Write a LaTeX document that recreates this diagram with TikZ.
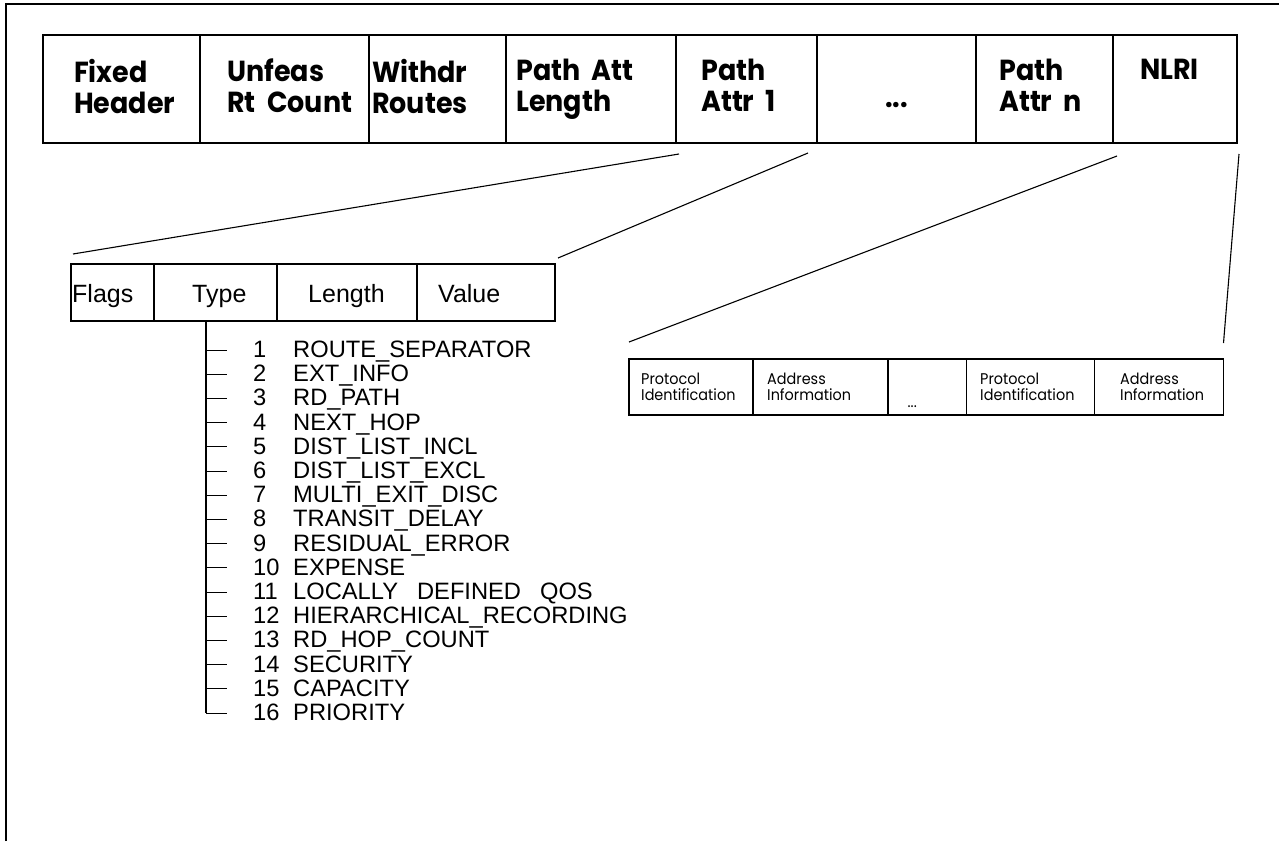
\documentclass[tikz,border=0pt]{standalone}
\usepackage{fontspec}
\setmainfont{Liberation Sans}
\newfontfamily\hdrfont{Poppins}[FakeStretch=0.93]
\usetikzlibrary{positioning}

\tikzset{
  topcell/.style={draw, rectangle, line width=1.3pt, inner sep=0pt, outer sep=0pt, minimum height=108pt},
  flagcell/.style={draw, rectangle, line width=1.2pt, inner sep=0pt, outer sep=0pt, minimum height=57pt},
  protocell/.style={draw, rectangle, line width=1.2pt, inner sep=0pt, outer sep=0pt, minimum height=56pt},
  hdrtext/.style={inner sep=0pt, align=left, font=\hdrfont\bfseries\fontsize{29}{31}\selectfont},
  flagtext/.style={inner sep=0pt, anchor=base west, font=\fontsize{25}{28}\selectfont},
  prototext/.style={inner sep=0pt, align=left, font=\hdrfont\fontsize{15.5}{15.5}\selectfont},
  entry/.style={inner sep=0pt, anchor=base west, font=\fontsize{23.7}{24}\selectfont},
  fan/.style={line width=1.1pt}
}

\begin{document}
\begin{tikzpicture}[x=1pt, y=-1pt]
                    \useasboundingbox (0,0) rectangle (1279,841);
                    \draw[line width=2pt] (6,841) -- (6,3.5) -- (1279,3.5);
                    \node[topcell, minimum width=157pt, anchor=north west] (fixhdr) at (43,35) {};
                    \node[topcell, minimum width=169pt, right=0pt of fixhdr] (unfeas) {};
                    \node[topcell, minimum width=137pt, right=0pt of unfeas] (withdr) {};
                    \node[topcell, minimum width=170pt, right=0pt of withdr] (palen) {};
                    \node[topcell, minimum width=141pt, right=0pt of palen] (pattr1) {};
                    \node[topcell, minimum width=159pt, right=0pt of pattr1] (pdots) {};
                    \node[topcell, minimum width=137pt, right=0pt of pdots] (pattrn) {};
                    \node[topcell, minimum width=124pt, right=0pt of pattrn] (nlri) {};
                    \node[hdrtext, below right=24pt and 31pt of fixhdr.north west] (fixhdrl) {Fixed\\Header};
                    \node[hdrtext, below right=24pt and 27pt of unfeas.north west] (unfeasl) {Unfeas\\Rt~~Count};
                    \node[hdrtext, below right=24pt and 3pt of withdr.north west] (withdrl) {Withdr\\Routes};
                    \node[hdrtext, below right=24pt and 10pt of palen.north west] (palenl) {Path~~Att\\Length};
                    \node[hdrtext, below right=24pt and 25pt of pattr1.north west] (pattr1l) {Path\\Attr~~1};
                    \node[hdrtext, anchor=base] (pdotsl) at ([yshift=-18pt]pdots.center) {...};
                    \node[hdrtext, below right=24pt and 23pt of pattrn.north west] (pattrnl) {Path\\Attr~~n};
                    \node[hdrtext, below right=24pt and 27pt of nlri.north west] (nlril) {NLRI};
                    \node[flagcell, minimum width=83pt, anchor=north west] (flags) at (71,264) {};
                    \node[flagcell, minimum width=123pt, right=0pt of flags] (type) {};
                    \node[flagcell, minimum width=140pt, right=0pt of type] (length) {};
                    \node[flagcell, minimum width=138pt, right=0pt of length] (value) {};
                    \node[flagtext] (flagsl) at ([shift={(1pt,19pt)}]flags.south west) {Flags};
                    \node[flagtext] (typel) at ([shift={(38pt,19pt)}]type.south west) {Type};
                    \node[flagtext] (lengthl) at ([shift={(31pt,19pt)}]length.south west) {Length};
                    \node[flagtext] (valuel) at ([shift={(21pt,19pt)}]value.south west) {Value};
                    \node[protocell, minimum width=124pt, anchor=north west] (proto1) at (629,359) {};
                    \node[protocell, minimum width=135pt, right=0pt of proto1] (addr1) {};
                    \node[protocell, minimum width=78.5pt, right=0pt of addr1] (pdots2) {};
                    \node[protocell, minimum width=128pt, right=0pt of pdots2] (proto2) {};
                    \node[protocell, minimum width=129pt, right=0pt of proto2] (addr2) {};
                    \node[prototext, below right=14pt and 12pt of proto1.north west] (proto1l) {Protocol\\Identification};
                    \node[prototext, below right=14pt and 14pt of addr1.north west] (addr1l) {Address\\Information};
                    \node[prototext, anchor=base] (pdots2l) at ([shift={(-15pt,-20pt)}]pdots2.center) {...};
                    \node[prototext, below right=14pt and 13.5pt of proto2.north west] (proto2l) {Protocol\\Identification};
                    \node[prototext, below right=14pt and 25.5pt of addr2.north west] (addr2l) {Address\\Information};
                    \coordinate (f1a) at ([shift={(3pt,-11pt)}]pattr1.south west);
                    \coordinate (f1b) at ([shift={(2pt,10pt)}]flags.north west);
                    \coordinate (f2a) at ([shift={(-9pt,-10pt)}]pattr1.south east);
                    \coordinate (f2b) at ([shift={(3pt,6pt)}]value.north east);
                    \coordinate (f3a) at ([shift={(4pt,-13pt)}]nlri.south west);
                    \coordinate (f3b) at ([shift={(0pt,17pt)}]proto1.north west);
                    \coordinate (f4a) at ([shift={(2pt,-11pt)}]nlri.south east);
                    \coordinate (f4b) at ([shift={(0pt,16pt)}]addr2.north east);
                    \draw[fan] (f1a) -- (f1b);
                    \draw[fan] (f2a) -- (f2b);
                    \draw[fan] (f3a) -- (f3b);
                    \draw[fan] (f4a) -- (f4b);
                    \coordinate (stem) at ([xshift=52pt]type.south west);
                    \foreach \k/\tname in {1/ROUTE\_SEPARATOR, 2/EXT\_INFO, 3/RD\_PATH, 4/NEXT\_HOP,
                        5/DIST\_LIST\_INCL, 6/DIST\_LIST\_EXCL, 7/MULTI\_EXIT\_DISC, 8/TRANSIT\_DELAY,
                        9/RESIDUAL\_ERROR, 10/EXPENSE, 11/LOCALLY\hspace{0.8em}DEFINED\hspace{0.8em}QOS,
                        12/HIERARCHICAL\_RECORDING, 13/RD\_HOP\_COUNT, 14/SECURITY, 15/CAPACITY, 16/PRIORITY} {
                        \pgfmathsetmacro\ty{350+(\k-1)*24.2}
                        \coordinate (tick\k) at (206,\ty);
                        \draw[line width=0.9pt] (tick\k) -- ++(21,0);
                        \node[entry] (tnum\k) at (253,\ty+7.5) {\k};
                        \node[entry] (tname\k) at (293,\ty+7.5) {\tname};
                    }
                    \draw[line width=1.2pt] (stem) -- (tick16);
                \end{tikzpicture}
\end{document}
